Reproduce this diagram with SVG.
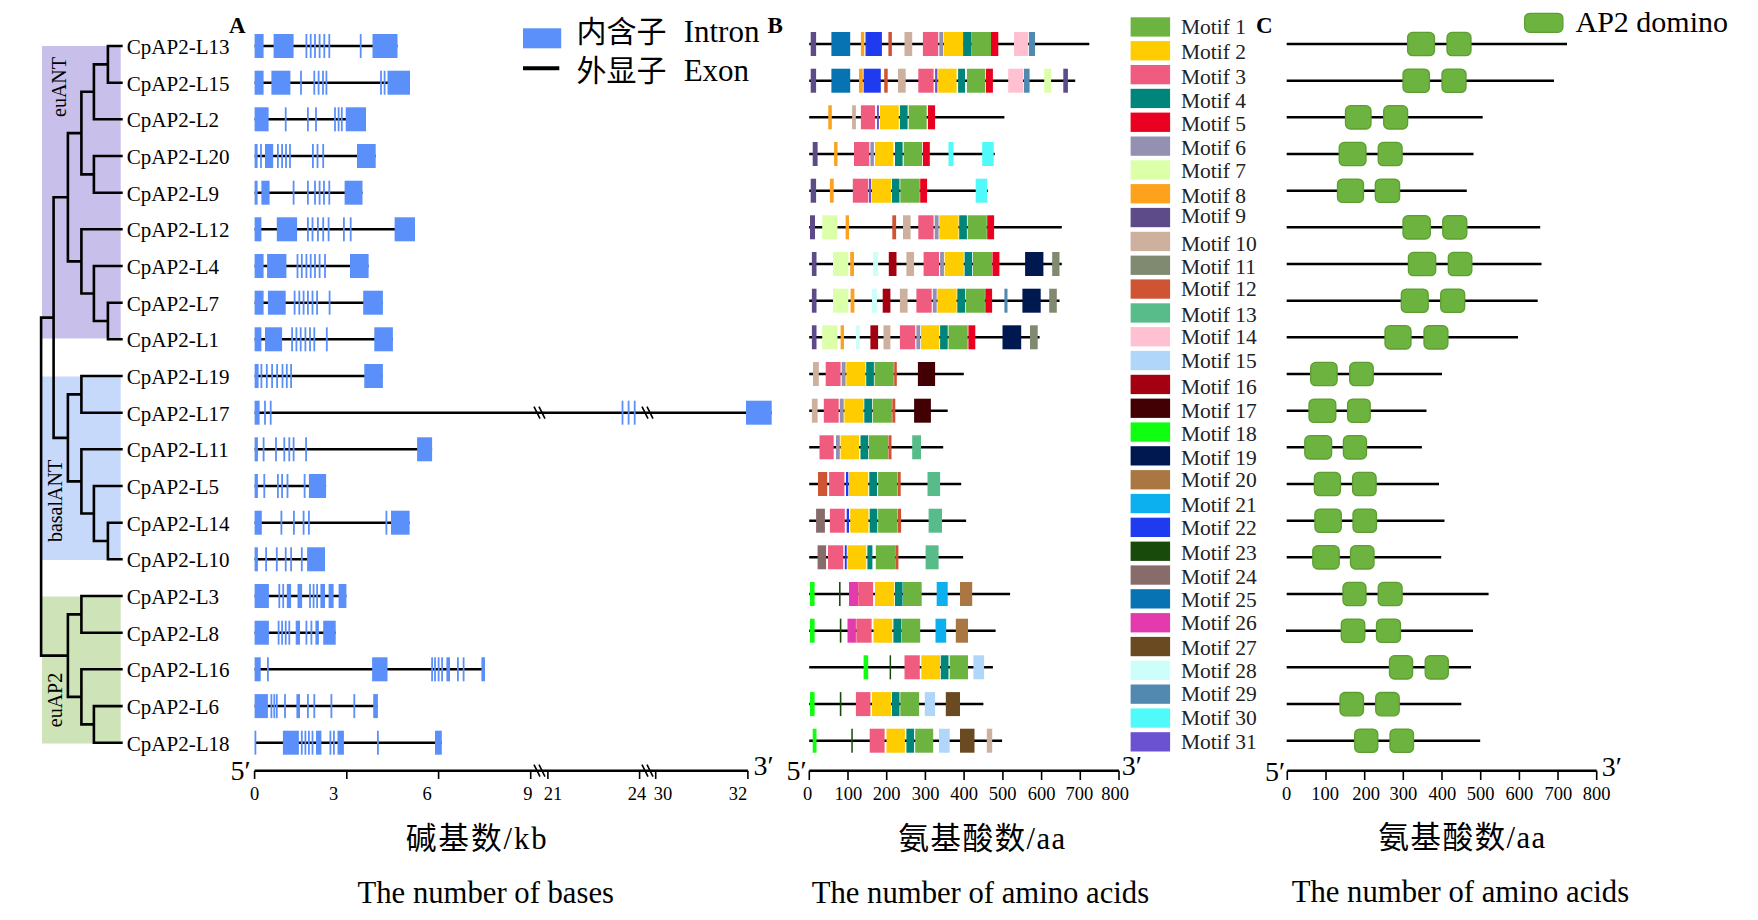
<svg xmlns="http://www.w3.org/2000/svg" width="1758" height="920" viewBox="0 0 1758 920">
<style>
.ln{stroke:#000;stroke-width:2.5;fill:none}
.tr{stroke:#000;stroke-width:2.6;fill:none;stroke-linecap:square}
.ax{stroke:#000;stroke-width:2.5;fill:none}
.tk{stroke:#000;stroke-width:1.6;fill:none}
.ex{fill:#5b8ff9}
.t{font-family:"Liberation Serif","Times New Roman","Noto Sans CJK SC",serif;fill:#000}
.lab{font-size:21px}
.mt{font-size:21.5px;fill:#222}
.num{font-size:18.5px;text-anchor:middle}
.end{font-size:28px}
.big{font-size:30.7px}
.bold{font-size:23px;font-weight:bold}
.cjk{font-family:"Liberation Serif","Noto Sans CJK SC",sans-serif}
.dom{fill:#6db33f;stroke:#5c9e30;stroke-width:1.3}
.m1{fill:#6db33f}.m2{fill:#ffcc00}.m3{fill:#f05c80}.m4{fill:#00857a}.m5{fill:#ea0020}
.m6{fill:#9490b2}.m7{fill:#dcffaa}.m8{fill:#fca21c}.m9{fill:#5d4a88}.m10{fill:#cdb09d}
.m11{fill:#7f8a70}.m12{fill:#cf5434}.m13{fill:#57bc8a}.m14{fill:#ffc0d2}.m15{fill:#b0d6fa}
.m16{fill:#a50012}.m17{fill:#420005}.m18{fill:#10ff10}.m19{fill:#001850}.m20{fill:#aa7642}
.m21{fill:#0db0ee}.m22{fill:#1f3bf0}.m23{fill:#184a0c}.m24{fill:#886c6c}.m25{fill:#0773b3}
.m26{fill:#e33aae}.m27{fill:#6a4a20}.m28{fill:#ccfffa}.m29{fill:#5189b1}.m30{fill:#50fafa}.m31{fill:#6a52d0}
</style>

<!-- clade backgrounds -->
<g id="clades">
<rect x="42" y="46" width="78.7" height="292.5" fill="#c9bfeb"/>
<rect x="42" y="376.5" width="78.7" height="183.5" fill="#c6d9fb"/>
<rect x="42" y="596.5" width="78.7" height="147" fill="#cee4b8"/>
<text class="t" font-size="20" text-anchor="middle" transform="translate(66,87) rotate(-90)">euANT</text>
<text class="t" font-size="20" text-anchor="middle" transform="translate(62,501) rotate(-90)">basalANT</text>
<text class="t" font-size="20" text-anchor="middle" transform="translate(62,700) rotate(-90)">euAP2</text>
</g>

<!-- tree connectors -->
<g id="connectors">
<path class="tr" d="M107.9 46H121.4M107.9 82.7H121.4M107.9 46V82.7M93.9 64.35H107.9M93.9 119.3H121.4M93.9 64.35V119.3M81.4 91.8H93.9
M93.9 156H121.4M93.9 192.7H121.4M93.9 156V192.7M81.4 174.35H93.9M81.4 91.8V174.35M67.9 133.1H81.4
M107.9 302.7H121.4M107.9 339.3H121.4M107.9 302.7V339.3M93.9 321H107.9M93.9 266H121.4M93.9 266V321M81.4 293.5H93.9
M81.4 229.3H121.4M81.4 229.3V293.5M67.9 261.4H81.4M67.9 133.1V261.4M53.6 197.25H67.9
M81.4 376H121.4M81.4 412.7H121.4M81.4 376V412.7M67.9 394.35H81.4
M107.9 522.7H121.4M107.9 559.3H121.4M107.9 522.7V559.3M93.9 541H107.9M93.9 486H121.4M93.9 486V541M81.4 513.5H93.9
M81.4 449.3H121.4M81.4 449.3V513.5M67.9 481.4H81.4M67.9 394.35V481.4M53.6 437.9H67.9M53.6 197.25V437.9M41.1 317.6H53.6
M81.4 596H121.4M81.4 632.7H121.4M81.4 596V632.7M67.9 614.35H81.4
M93.9 706.1H121.4M93.9 742.7H121.4M93.9 706.1V742.7M81.4 724.4H93.9M81.4 669.3H121.4M81.4 669.3V724.4M67.9 696.85H81.4
M67.9 614.35V696.85M41.1 655.6H67.9M41.1 317.6V655.6"/>
</g>

<!-- leaf labels -->
<g id="leaves" class="t lab">
<text id="n-L13" x="126.8" y="54">CpAP2-L13</text>
<text id="n-L15" x="126.8" y="90.7">CpAP2-L15</text>
<text id="n-L2" x="126.8" y="127.3">CpAP2-L2</text>
<text id="n-L20" x="126.8" y="164">CpAP2-L20</text>
<text id="n-L9" x="126.8" y="200.7">CpAP2-L9</text>
<text id="n-L12" x="126.8" y="237.3">CpAP2-L12</text>
<text id="n-L4" x="126.8" y="274">CpAP2-L4</text>
<text id="n-L7" x="126.8" y="310.7">CpAP2-L7</text>
<text id="n-L1" x="126.8" y="347.4">CpAP2-L1</text>
<text id="n-L19" x="126.8" y="384">CpAP2-L19</text>
<text id="n-L17" x="126.8" y="420.7">CpAP2-L17</text>
<text id="n-L11" x="126.8" y="457.4">CpAP2-L11</text>
<text id="n-L5" x="126.8" y="494">CpAP2-L5</text>
<text id="n-L14" x="126.8" y="530.7">CpAP2-L14</text>
<text id="n-L10" x="126.8" y="567.4">CpAP2-L10</text>
<text id="n-L3" x="126.8" y="604">CpAP2-L3</text>
<text id="n-L8" x="126.8" y="640.7">CpAP2-L8</text>
<text id="n-L16" x="126.8" y="677.4">CpAP2-L16</text>
<text id="n-L6" x="126.8" y="714.1">CpAP2-L6</text>
<text id="n-L18" x="126.8" y="750.7">CpAP2-L18</text>
</g>

<!-- panel labels -->
<text class="t bold" x="229" y="33">A</text>
<text class="t bold" x="767.5" y="33">B</text>
<text class="t bold" x="1256" y="33">C</text>

<!-- legend A -->
<g id="legendA">
<rect class="ex" x="523" y="28.3" width="38.2" height="20"/>
<line x1="523" y1="68.3" x2="559.3" y2="68.3" stroke="#000" stroke-width="4"/>
<text class="t cjk" font-size="30" y="42"><tspan x="576.5">内含子</tspan><tspan x="683.7" font-size="31">Intron</tspan></text>
<text class="t cjk" font-size="30" y="80.5"><tspan x="576.5">外显子</tspan><tspan x="683.7" font-size="31">Exon</tspan></text>
</g>

<!-- panel A genes -->
<g id="genesA">
<g id="A-L13" transform="translate(0,46)"><line class="ln" x1="254.6" x2="397.5"/><g class="ex"><rect x="254.6" y="-12" width="9" height="24"/><rect x="273.6" y="-12" width="20" height="24"/><rect x="372.5" y="-12" width="25" height="24"/><rect x="305.5" y="-12" width="1.8" height="24"/><rect x="309.8" y="-12" width="1.8" height="24"/><rect x="314.1" y="-12" width="1.8" height="24"/><rect x="318.7" y="-12" width="1.8" height="24"/><rect x="323.4" y="-12" width="1.8" height="24"/><rect x="328.4" y="-12" width="1.8" height="24"/><rect x="359.8" y="-12" width="1.8" height="24"/></g></g>
<g id="A-L15" transform="translate(0,82.7)"><line class="ln" x1="254.6" x2="410"/><g class="ex"><rect x="254.6" y="-12" width="9" height="24"/><rect x="271.4" y="-12" width="19" height="24"/><rect x="387.5" y="-12" width="22.5" height="24"/><rect x="300.1" y="-12" width="1.8" height="24"/><rect x="313.4" y="-12" width="1.8" height="24"/><rect x="317.7" y="-12" width="1.8" height="24"/><rect x="322.1" y="-12" width="1.8" height="24"/><rect x="325.5" y="-12" width="1.8" height="24"/><rect x="380.1" y="-12" width="1.8" height="24"/><rect x="383.7" y="-12" width="1.8" height="24"/></g></g>
<g id="A-L2" transform="translate(0,119.3)"><line class="ln" x1="254.6" x2="366"/><g class="ex"><rect x="254.6" y="-12" width="14" height="24"/><rect x="345.7" y="-12" width="20.3" height="24"/><rect x="284.8" y="-12" width="1.8" height="24"/><rect x="307" y="-12" width="1.8" height="24"/><rect x="315.1" y="-12" width="1.8" height="24"/><rect x="334.1" y="-12" width="1.8" height="24"/><rect x="337.7" y="-12" width="1.8" height="24"/><rect x="340.9" y="-12" width="1.8" height="24"/></g></g>
<g id="A-L20" transform="translate(0,156)"><line class="ln" x1="254.6" x2="375.7"/><g class="ex"><rect x="254.6" y="-12" width="3" height="24"/><rect x="265" y="-12" width="8.2" height="24"/><rect x="357" y="-12" width="18.7" height="24"/><rect x="260.1" y="-12" width="1.8" height="24"/><rect x="277" y="-12" width="1.8" height="24"/><rect x="281.2" y="-12" width="1.8" height="24"/><rect x="285.1" y="-12" width="1.8" height="24"/><rect x="289.1" y="-12" width="1.8" height="24"/><rect x="312" y="-12" width="1.8" height="24"/><rect x="316.6" y="-12" width="1.8" height="24"/><rect x="322.3" y="-12" width="1.8" height="24"/></g></g>
<g id="A-L9" transform="translate(0,192.7)"><line class="ln" x1="254.6" x2="362.5"/><g class="ex"><rect x="254.6" y="-12" width="3" height="24"/><rect x="261.4" y="-12" width="8.2" height="24"/><rect x="344.6" y="-12" width="17.9" height="24"/><rect x="292.7" y="-12" width="1.8" height="24"/><rect x="307" y="-12" width="1.8" height="24"/><rect x="314.1" y="-12" width="1.8" height="24"/><rect x="318.7" y="-12" width="1.8" height="24"/><rect x="323.1" y="-12" width="1.8" height="24"/><rect x="328.4" y="-12" width="1.8" height="24"/></g></g>
<g id="A-L12" transform="translate(0,229.3)"><line class="ln" x1="254.6" x2="415"/><g class="ex"><rect x="254.6" y="-12" width="6.8" height="24"/><rect x="276.8" y="-12" width="20.3" height="24"/><rect x="394.6" y="-12" width="20.4" height="24"/><rect x="307" y="-12" width="1.8" height="24"/><rect x="311.6" y="-12" width="1.8" height="24"/><rect x="317" y="-12" width="1.8" height="24"/><rect x="322.3" y="-12" width="1.8" height="24"/><rect x="327.7" y="-12" width="1.8" height="24"/><rect x="343" y="-12" width="1.8" height="24"/><rect x="349.8" y="-12" width="1.8" height="24"/></g></g>
<g id="A-L4" transform="translate(0,266)"><line class="ln" x1="254.6" x2="368.6"/><g class="ex"><rect x="254.6" y="-12" width="9" height="24"/><rect x="267.1" y="-12" width="19.3" height="24"/><rect x="350" y="-12" width="18.6" height="24"/><rect x="296.6" y="-12" width="1.8" height="24"/><rect x="300.9" y="-12" width="1.8" height="24"/><rect x="305.5" y="-12" width="1.8" height="24"/><rect x="309.8" y="-12" width="1.8" height="24"/><rect x="314.1" y="-12" width="1.8" height="24"/><rect x="318.7" y="-12" width="1.8" height="24"/><rect x="324.1" y="-12" width="1.8" height="24"/></g></g>
<g id="A-L7" transform="translate(0,302.7)"><line class="ln" x1="254.6" x2="382.9"/><g class="ex"><rect x="254.6" y="-12" width="9" height="24"/><rect x="267.9" y="-12" width="17.8" height="24"/><rect x="363.2" y="-12" width="19.7" height="24"/><rect x="293.7" y="-12" width="1.8" height="24"/><rect x="298.4" y="-12" width="1.8" height="24"/><rect x="302.7" y="-12" width="1.8" height="24"/><rect x="307" y="-12" width="1.8" height="24"/><rect x="311.6" y="-12" width="1.8" height="24"/><rect x="316.2" y="-12" width="1.8" height="24"/><rect x="328.7" y="-12" width="1.8" height="24"/></g></g>
<g id="A-L1" transform="translate(0,339.3)"><line class="ln" x1="254.6" x2="392.9"/><g class="ex"><rect x="254.6" y="-12" width="6.8" height="24"/><rect x="265" y="-12" width="17.1" height="24"/><rect x="374.3" y="-12" width="18.6" height="24"/><rect x="291.2" y="-12" width="1.8" height="24"/><rect x="295.5" y="-12" width="1.8" height="24"/><rect x="299.8" y="-12" width="1.8" height="24"/><rect x="304.5" y="-12" width="1.8" height="24"/><rect x="309.1" y="-12" width="1.8" height="24"/><rect x="313.4" y="-12" width="1.8" height="24"/><rect x="325.9" y="-12" width="1.8" height="24"/></g></g>
<g id="A-L19" transform="translate(0,376)"><line class="ln" x1="254.6" x2="382.9"/><g class="ex"><rect x="254.6" y="-12" width="4" height="24"/><rect x="364.3" y="-12" width="18.6" height="24"/><rect x="260.5" y="-12" width="1.8" height="24"/><rect x="265.9" y="-12" width="1.8" height="24"/><rect x="271.2" y="-12" width="1.8" height="24"/><rect x="276.2" y="-12" width="1.8" height="24"/><rect x="281.6" y="-12" width="1.8" height="24"/><rect x="285.9" y="-12" width="1.8" height="24"/><rect x="290.2" y="-12" width="1.8" height="24"/></g></g>
<g id="A-L17" transform="translate(0,412.7)"><line class="ln" x1="254.6" x2="771.7"/><g class="ex"><rect x="254.6" y="-12" width="5" height="24"/><rect x="746" y="-12" width="25.7" height="24"/><rect x="264.1" y="-12" width="1.8" height="24"/><rect x="269.8" y="-12" width="1.8" height="24"/><rect x="621.6" y="-12" width="1.8" height="24"/><rect x="627.7" y="-12" width="1.8" height="24"/><rect x="633.8" y="-12" width="1.8" height="24"/></g><path class="tk" stroke-width="2" d="M534 -6L540 6M539 -6L545 6M642 -6L648 6M647 -6L653 6"/></g>
<g id="A-L11" transform="translate(0,449.3)"><line class="ln" x1="254.6" x2="432.1"/><g class="ex"><rect x="254.6" y="-12" width="3.3" height="24"/><rect x="417.1" y="-12" width="15" height="24"/><rect x="262.7" y="-12" width="1.8" height="24"/><rect x="275.1" y="-12" width="1.8" height="24"/><rect x="283.4" y="-12" width="1.8" height="24"/><rect x="288.4" y="-12" width="1.8" height="24"/><rect x="292.7" y="-12" width="1.8" height="24"/><rect x="305.2" y="-12" width="1.8" height="24"/></g></g>
<g id="A-L5" transform="translate(0,486)"><line class="ln" x1="254.6" x2="326.1"/><g class="ex"><rect x="254.6" y="-12" width="3.3" height="24"/><rect x="308.9" y="-12" width="17.2" height="24"/><rect x="263.4" y="-12" width="1.8" height="24"/><rect x="277" y="-12" width="1.8" height="24"/><rect x="281.2" y="-12" width="1.8" height="24"/><rect x="286.6" y="-12" width="1.8" height="24"/><rect x="303.7" y="-12" width="1.8" height="24"/></g></g>
<g id="A-L14" transform="translate(0,522.7)"><line class="ln" x1="254.6" x2="409.6"/><g class="ex"><rect x="254.6" y="-12" width="7.2" height="24"/><rect x="391" y="-12" width="18.6" height="24"/><rect x="280.5" y="-12" width="1.8" height="24"/><rect x="293" y="-12" width="1.8" height="24"/><rect x="302.7" y="-12" width="1.8" height="24"/><rect x="308" y="-12" width="1.8" height="24"/><rect x="385.5" y="-12" width="1.8" height="24"/></g></g>
<g id="A-L10" transform="translate(0,559.3)"><line class="ln" x1="254.6" x2="325"/><g class="ex"><rect x="254.6" y="-12" width="3.3" height="24"/><rect x="307.1" y="-12" width="17.9" height="24"/><rect x="265.2" y="-12" width="1.8" height="24"/><rect x="275.9" y="-12" width="1.8" height="24"/><rect x="284.8" y="-12" width="1.8" height="24"/><rect x="290.2" y="-12" width="1.8" height="24"/><rect x="300.9" y="-12" width="1.8" height="24"/></g></g>
<g id="A-L3" transform="translate(0,596)"><line class="ln" x1="254.6" x2="346.4"/><g class="ex"><rect x="254.6" y="-12" width="14.3" height="24"/><rect x="286.8" y="-12" width="4.3" height="24"/><rect x="297.5" y="-12" width="4.6" height="24"/><rect x="320.4" y="-12" width="4.6" height="24"/><rect x="328.6" y="-12" width="5" height="24"/><rect x="338.6" y="-12" width="7.8" height="24"/><rect x="278.4" y="-12" width="1.8" height="24"/><rect x="282.3" y="-12" width="1.8" height="24"/><rect x="309.1" y="-12" width="1.8" height="24"/><rect x="312.7" y="-12" width="1.8" height="24"/><rect x="316.2" y="-12" width="1.8" height="24"/></g></g>
<g id="A-L8" transform="translate(0,632.7)"><line class="ln" x1="254.6" x2="335.7"/><g class="ex"><rect x="254.6" y="-12" width="14.3" height="24"/><rect x="295.7" y="-12" width="4.3" height="24"/><rect x="315.4" y="-12" width="3.5" height="24"/><rect x="323.2" y="-12" width="12.5" height="24"/><rect x="277.7" y="-12" width="1.8" height="24"/><rect x="281.2" y="-12" width="1.8" height="24"/><rect x="284.8" y="-12" width="1.8" height="24"/><rect x="288.4" y="-12" width="1.8" height="24"/><rect x="305.5" y="-12" width="1.8" height="24"/><rect x="310.5" y="-12" width="1.8" height="24"/></g></g>
<g id="A-L16" transform="translate(0,669.3)"><line class="ln" x1="254.6" x2="485"/><g class="ex"><rect x="254.6" y="-12" width="6.1" height="24"/><rect x="372.1" y="-12" width="15.4" height="24"/><rect x="446.4" y="-12" width="3.6" height="24"/><rect x="481.4" y="-12" width="3.6" height="24"/><rect x="267" y="-12" width="1.8" height="24"/><rect x="431.2" y="-12" width="1.8" height="24"/><rect x="434.1" y="-12" width="1.8" height="24"/><rect x="437.7" y="-12" width="1.8" height="24"/><rect x="441.2" y="-12" width="1.8" height="24"/><rect x="457" y="-12" width="1.8" height="24"/><rect x="462.7" y="-12" width="1.8" height="24"/></g></g>
<g id="A-L6" transform="translate(0,706.1)"><line class="ln" x1="254.6" x2="377.9"/><g class="ex"><rect x="254.6" y="-12" width="13.3" height="24"/><rect x="296.4" y="-12" width="3.6" height="24"/><rect x="373.2" y="-12" width="4.7" height="24"/><rect x="270.5" y="-12" width="1.8" height="24"/><rect x="273.4" y="-12" width="1.8" height="24"/><rect x="275.9" y="-12" width="1.8" height="24"/><rect x="284.1" y="-12" width="1.8" height="24"/><rect x="307" y="-12" width="1.8" height="24"/><rect x="313.4" y="-12" width="1.8" height="24"/><rect x="330.5" y="-12" width="1.8" height="24"/><rect x="353.4" y="-12" width="1.8" height="24"/></g></g>
<g id="A-L18" transform="translate(0,742.7)"><line class="ln" x1="255.4" x2="441.8"/><g class="ex"><rect x="282.9" y="-12" width="16" height="24"/><rect x="316" y="-12" width="5.4" height="24"/><rect x="337.5" y="-12" width="6.4" height="24"/><rect x="435" y="-12" width="6.8" height="24"/><rect x="254.5" y="-12" width="1.8" height="24"/><rect x="300.9" y="-12" width="1.8" height="24"/><rect x="304.5" y="-12" width="1.8" height="24"/><rect x="308" y="-12" width="1.8" height="24"/><rect x="311.6" y="-12" width="1.8" height="24"/><rect x="329.5" y="-12" width="1.8" height="24"/><rect x="333" y="-12" width="1.8" height="24"/><rect x="377" y="-12" width="1.8" height="24"/></g></g>
</g>

<!-- panel B motifs -->
<g id="motifsB">
<g id="B-L13" transform="translate(0,44)"><line class="ln" x1="809.2" x2="1089.3"/><rect class="m9" x="810.7" y="-12" width="5.4" height="24"/><rect class="m25" x="831.4" y="-12" width="18.8" height="24"/><rect class="m8" x="860.9" y="-12" width="3.4" height="24"/><rect class="m22" x="865.5" y="-12" width="16.4" height="24"/><rect class="m12" x="888.4" y="-12" width="3.5" height="24"/><rect class="m10" x="904.5" y="-12" width="7.7" height="24"/><rect class="m3" x="922.9" y="-12" width="15.3" height="24"/><rect class="m6" x="939.3" y="-12" width="3.9" height="24"/><rect class="m2" x="943.9" y="-12" width="19.2" height="24"/><rect class="m4" x="963.1" y="-12" width="8.4" height="24"/><rect class="m1" x="971.5" y="-12" width="19.5" height="24"/><rect class="m5" x="991" y="-12" width="7.3" height="24"/><rect class="m14" x="1014" y="-12" width="14.1" height="24"/><rect class="m29" x="1028.9" y="-12" width="6.1" height="24"/></g>
<g id="B-L15" transform="translate(0,80.7)"><line class="ln" x1="809.2" x2="1075.2"/><rect class="m9" x="810.7" y="-12" width="5.4" height="24"/><rect class="m25" x="831.4" y="-12" width="18.8" height="24"/><rect class="m8" x="859" y="-12" width="3.8" height="24"/><rect class="m22" x="863.6" y="-12" width="17.2" height="24"/><rect class="m12" x="884.2" y="-12" width="3.5" height="24"/><rect class="m10" x="898" y="-12" width="7.7" height="24"/><rect class="m3" x="918.3" y="-12" width="15.3" height="24"/><rect class="m31" x="935.1" y="-12" width="2.3" height="24"/><rect class="m2" x="938.2" y="-12" width="18.4" height="24"/><rect class="m4" x="958.1" y="-12" width="6.9" height="24"/><rect class="m1" x="966.9" y="-12" width="18.4" height="24"/><rect class="m5" x="986" y="-12" width="6.9" height="24"/><rect class="m14" x="1008.2" y="-12" width="14.9" height="24"/><rect class="m29" x="1023.9" y="-12" width="5.7" height="24"/><rect class="m7" x="1044.2" y="-12" width="6.9" height="24"/><rect class="m9" x="1063.3" y="-12" width="4.6" height="24"/></g>
<g id="B-L2" transform="translate(0,117.3)"><line class="ln" x1="809.2" x2="1004.4"/><rect class="m8" x="828.3" y="-12" width="3.5" height="24"/><rect class="m10" x="852.1" y="-12" width="3.8" height="24"/><rect class="m3" x="860.9" y="-12" width="14.1" height="24"/><rect class="m31" x="877" y="-12" width="1.9" height="24"/><rect class="m2" x="880" y="-12" width="18.8" height="24"/><rect class="m4" x="899.9" y="-12" width="7.7" height="24"/><rect class="m1" x="908.7" y="-12" width="18" height="24"/><rect class="m5" x="927.9" y="-12" width="7.2" height="24"/></g>
<g id="B-L20" transform="translate(0,154)"><line class="ln" x1="809.2" x2="994.8"/><rect class="m9" x="812.7" y="-12" width="4.9" height="24"/><rect class="m8" x="834.1" y="-12" width="3.4" height="24"/><rect class="m3" x="854" y="-12" width="15.3" height="24"/><rect class="m6" x="870.4" y="-12" width="3.5" height="24"/><rect class="m2" x="875" y="-12" width="18.4" height="24"/><rect class="m4" x="895" y="-12" width="7.6" height="24"/><rect class="m1" x="903.7" y="-12" width="18.4" height="24"/><rect class="m5" x="922.9" y="-12" width="6.9" height="24"/><rect class="m30" x="948.5" y="-12" width="5" height="24"/><rect class="m30" x="982.2" y="-12" width="11.5" height="24"/></g>
<g id="B-L9" transform="translate(0,190.7)"><line class="ln" x1="809.2" x2="988"/><rect class="m9" x="810.7" y="-12" width="5.4" height="24"/><rect class="m8" x="829.9" y="-12" width="3.8" height="24"/><rect class="m3" x="852.8" y="-12" width="15.4" height="24"/><rect class="m31" x="868.9" y="-12" width="2.3" height="24"/><rect class="m2" x="872" y="-12" width="19.1" height="24"/><rect class="m4" x="891.9" y="-12" width="7.6" height="24"/><rect class="m1" x="900.3" y="-12" width="19.5" height="24"/><rect class="m5" x="920.2" y="-12" width="6.9" height="24"/><rect class="m30" x="975.7" y="-12" width="11.5" height="24"/></g>
<g id="B-L12" transform="translate(0,227.3)"><line class="ln" x1="809.2" x2="1061.8"/><rect class="m9" x="810" y="-12" width="5" height="24"/><rect class="m7" x="822.2" y="-12" width="15.3" height="24"/><rect class="m8" x="845.6" y="-12" width="3.4" height="24"/><rect class="m12" x="892.3" y="-12" width="3.8" height="24"/><rect class="m10" x="903" y="-12" width="7.6" height="24"/><rect class="m3" x="918.3" y="-12" width="15.3" height="24"/><rect class="m6" x="934.7" y="-12" width="3.9" height="24"/><rect class="m2" x="939.3" y="-12" width="19.2" height="24"/><rect class="m4" x="959.2" y="-12" width="7.7" height="24"/><rect class="m1" x="967.7" y="-12" width="19.1" height="24"/><rect class="m5" x="987.2" y="-12" width="6.9" height="24"/></g>
<g id="B-L4" transform="translate(0,264)"><line class="ln" x1="809.2" x2="1061.8"/><rect class="m9" x="811.9" y="-12" width="4.6" height="24"/><rect class="m7" x="833" y="-12" width="15.3" height="24"/><rect class="m8" x="850.2" y="-12" width="3.8" height="24"/><rect class="m28" x="873.1" y="-12" width="5" height="24"/><rect class="m16" x="888.8" y="-12" width="7.7" height="24"/><rect class="m10" x="906.4" y="-12" width="7.7" height="24"/><rect class="m3" x="923.6" y="-12" width="15.4" height="24"/><rect class="m6" x="940.1" y="-12" width="3.8" height="24"/><rect class="m2" x="944.7" y="-12" width="19.1" height="24"/><rect class="m4" x="964.6" y="-12" width="7.6" height="24"/><rect class="m1" x="973" y="-12" width="19.2" height="24"/><rect class="m5" x="992.5" y="-12" width="6.9" height="24"/><rect class="m19" x="1025.1" y="-12" width="18.3" height="24"/><rect class="m11" x="1052.2" y="-12" width="7.3" height="24"/></g>
<g id="B-L7" transform="translate(0,300.7)"><line class="ln" x1="809.2" x2="1059.5"/><rect class="m9" x="811.9" y="-12" width="4.6" height="24"/><rect class="m7" x="833" y="-12" width="15.3" height="24"/><rect class="m8" x="850.6" y="-12" width="3.8" height="24"/><rect class="m28" x="872" y="-12" width="5" height="24"/><rect class="m16" x="882.7" y="-12" width="7.7" height="24"/><rect class="m10" x="899.9" y="-12" width="7.7" height="24"/><rect class="m3" x="916.4" y="-12" width="15.3" height="24"/><rect class="m6" x="932.8" y="-12" width="3.9" height="24"/><rect class="m2" x="937.4" y="-12" width="19.2" height="24"/><rect class="m4" x="957.3" y="-12" width="7.7" height="24"/><rect class="m1" x="965.7" y="-12" width="19.2" height="24"/><rect class="m5" x="985.3" y="-12" width="6.8" height="24"/><rect class="m29" x="1004.4" y="-12" width="3.1" height="24"/><rect class="m19" x="1022.4" y="-12" width="18.3" height="24"/><rect class="m11" x="1049.2" y="-12" width="7.6" height="24"/></g>
<g id="B-L1" transform="translate(0,337.3)"><line class="ln" x1="809.2" x2="1039.6"/><rect class="m9" x="811.9" y="-12" width="4.6" height="24"/><rect class="m7" x="822.2" y="-12" width="15.3" height="24"/><rect class="m8" x="840.6" y="-12" width="3.4" height="24"/><rect class="m28" x="855.9" y="-12" width="3.8" height="24"/><rect class="m16" x="870.4" y="-12" width="7.7" height="24"/><rect class="m10" x="883.5" y="-12" width="6.9" height="24"/><rect class="m3" x="899.9" y="-12" width="15.3" height="24"/><rect class="m6" x="916.4" y="-12" width="3.8" height="24"/><rect class="m2" x="921" y="-12" width="18.3" height="24"/><rect class="m4" x="940.1" y="-12" width="7.6" height="24"/><rect class="m1" x="948.5" y="-12" width="19.2" height="24"/><rect class="m5" x="968.4" y="-12" width="6.9" height="24"/><rect class="m19" x="1002.5" y="-12" width="18.7" height="24"/><rect class="m11" x="1030" y="-12" width="7.7" height="24"/></g>
<g id="B-L19" transform="translate(0,374)"><line class="ln" x1="809.2" x2="963.8"/><rect class="m10" x="813" y="-12" width="5.8" height="24"/><rect class="m3" x="825.7" y="-12" width="14.9" height="24"/><rect class="m6" x="841.7" y="-12" width="3.9" height="24"/><rect class="m2" x="846.3" y="-12" width="19.2" height="24"/><rect class="m4" x="866.2" y="-12" width="7.7" height="24"/><rect class="m1" x="874.6" y="-12" width="19.2" height="24"/><rect class="m12" x="894.2" y="-12" width="2.6" height="24"/><rect class="m17" x="917.9" y="-12" width="17.2" height="24"/></g>
<g id="B-L17" transform="translate(0,410.7)"><line class="ln" x1="809.2" x2="947.7"/><rect class="m10" x="811.9" y="-12" width="5.7" height="24"/><rect class="m3" x="823.8" y="-12" width="14.9" height="24"/><rect class="m6" x="839.8" y="-12" width="3.9" height="24"/><rect class="m2" x="844.4" y="-12" width="19.2" height="24"/><rect class="m4" x="864.3" y="-12" width="7.7" height="24"/><rect class="m1" x="872.7" y="-12" width="19.2" height="24"/><rect class="m12" x="892.3" y="-12" width="3" height="24"/><rect class="m17" x="914.1" y="-12" width="16.8" height="24"/></g>
<g id="B-L11" transform="translate(0,447.3)"><line class="ln" x1="809.2" x2="943.2"/><rect class="m3" x="819.5" y="-12" width="14.2" height="24"/><rect class="m6" x="836" y="-12" width="3.8" height="24"/><rect class="m2" x="840.6" y="-12" width="18.4" height="24"/><rect class="m4" x="860.5" y="-12" width="7.7" height="24"/><rect class="m1" x="868.9" y="-12" width="19.1" height="24"/><rect class="m12" x="888.4" y="-12" width="3.1" height="24"/><rect class="m13" x="912.2" y="-12" width="8.8" height="24"/></g>
<g id="B-L5" transform="translate(0,484)"><line class="ln" x1="809.2" x2="961.2"/><rect class="m12" x="818" y="-12" width="9.2" height="24" fill="#dc4e42"/><rect class="m3" x="829.1" y="-12" width="15.3" height="24"/><rect class="m22" x="846" y="-12" width="2.3" height="24"/><rect class="m2" x="849" y="-12" width="19.2" height="24"/><rect class="m4" x="869.3" y="-12" width="7.7" height="24"/><rect class="m1" x="878.1" y="-12" width="19.1" height="24"/><rect class="m12" x="897.6" y="-12" width="3.1" height="24"/><rect class="m13" x="927.5" y="-12" width="12.6" height="24"/></g>
<g id="B-L14" transform="translate(0,520.7)"><line class="ln" x1="809.2" x2="966.1"/><rect class="m24" x="816.1" y="-12" width="8.8" height="24"/><rect class="m3" x="829.9" y="-12" width="14.9" height="24"/><rect class="m22" x="846.7" y="-12" width="2.3" height="24"/><rect class="m2" x="850.2" y="-12" width="18.3" height="24"/><rect class="m4" x="869.7" y="-12" width="7.6" height="24"/><rect class="m1" x="878.1" y="-12" width="19.1" height="24"/><rect class="m12" x="897.6" y="-12" width="3.5" height="24"/><rect class="m13" x="928.6" y="-12" width="13.4" height="24"/></g>
<g id="B-L10" transform="translate(0,557.3)"><line class="ln" x1="809.2" x2="963.1"/><rect class="m24" x="817.6" y="-12" width="8.5" height="24"/><rect class="m3" x="828" y="-12" width="15.3" height="24"/><rect class="m22" x="844.8" y="-12" width="1.9" height="24"/><rect class="m2" x="847.5" y="-12" width="18.7" height="24"/><rect class="m4" x="867.4" y="-12" width="5" height="24"/><rect class="m1" x="875.8" y="-12" width="19.2" height="24"/><rect class="m12" x="895.3" y="-12" width="3.1" height="24"/><rect class="m13" x="925.6" y="-12" width="13" height="24"/></g>
<g id="B-L3" transform="translate(0,594)"><line class="ln" x1="809.2" x2="1010.1"/><rect class="m18" x="810" y="-12" width="4.6" height="24"/><rect class="m23" x="839" y="-12" width="1.6" height="24"/><rect class="m26" x="849" y="-12" width="9" height="24"/><rect class="m3" x="858.2" y="-12" width="14.9" height="24"/><rect class="m2" x="875" y="-12" width="19.2" height="24"/><rect class="m4" x="895" y="-12" width="7.6" height="24"/><rect class="m1" x="903" y="-12" width="18.7" height="24"/><rect class="m21" x="936.7" y="-12" width="11" height="24"/><rect class="m20" x="960" y="-12" width="12.2" height="24"/></g>
<g id="B-L8" transform="translate(0,630.7)"><line class="ln" x1="809.2" x2="995.6"/><rect class="m18" x="810" y="-12" width="4.6" height="24"/><rect class="m23" x="839.8" y="-12" width="1.6" height="24"/><rect class="m26" x="847.5" y="-12" width="8.4" height="24"/><rect class="m3" x="856.3" y="-12" width="15.3" height="24"/><rect class="m2" x="873.5" y="-12" width="18.8" height="24"/><rect class="m4" x="893.4" y="-12" width="7.7" height="24"/><rect class="m1" x="901.4" y="-12" width="18.8" height="24"/><rect class="m21" x="935.5" y="-12" width="10.7" height="24"/><rect class="m20" x="955.8" y="-12" width="12.2" height="24"/></g>
<g id="B-L16" transform="translate(0,667.3)"><line class="ln" x1="809.2" x2="992.9"/><rect class="m18" x="863.6" y="-12" width="4.6" height="24"/><rect class="m23" x="889.6" y="-12" width="1.5" height="24"/><rect class="m3" x="904.5" y="-12" width="15.3" height="24"/><rect class="m2" x="921.3" y="-12" width="18.8" height="24"/><rect class="m4" x="940.8" y="-12" width="7.7" height="24"/><rect class="m1" x="949.7" y="-12" width="18.3" height="24"/><rect class="m15" x="973.4" y="-12" width="10.7" height="24"/></g>
<g id="B-L6" transform="translate(0,704.1)"><line class="ln" x1="809.2" x2="983.4"/><rect class="m18" x="810" y="-12" width="4.6" height="24"/><rect class="m23" x="839.8" y="-12" width="1.6" height="24"/><rect class="m3" x="855.9" y="-12" width="14.5" height="24"/><rect class="m2" x="872" y="-12" width="19.1" height="24"/><rect class="m4" x="891.9" y="-12" width="7.6" height="24"/><rect class="m1" x="900.3" y="-12" width="18.8" height="24"/><rect class="m15" x="924.8" y="-12" width="10.3" height="24"/><rect class="m27" x="945.8" y="-12" width="14.2" height="24"/></g>
<g id="B-L18" transform="translate(0,740.7)"><line class="ln" x1="809.2" x2="1002.1"/><rect class="m18" x="812.7" y="-12" width="3.8" height="24"/><rect class="m23" x="851.3" y="-12" width="1.5" height="24"/><rect class="m3" x="869.7" y="-12" width="14.9" height="24"/><rect class="m2" x="886.5" y="-12" width="18.4" height="24"/><rect class="m4" x="906.4" y="-12" width="7.7" height="24"/><rect class="m1" x="915.2" y="-12" width="18" height="24"/><rect class="m15" x="939" y="-12" width="10.7" height="24"/><rect class="m27" x="960" y="-12" width="14.5" height="24"/><rect class="m10" x="986.8" y="-12" width="5.4" height="24"/></g>
</g>

<!-- motif legend -->
<g id="motifLegend">
<rect class="m1" x="1130.6" y="17.3" width="39.5" height="19.3"/><rect class="m2" x="1130.6" y="41.1" width="39.5" height="19.3"/><rect class="m3" x="1130.6" y="65" width="39.5" height="19.3"/><rect class="m4" x="1130.6" y="88.8" width="39.5" height="19.3"/><rect class="m5" x="1130.6" y="112.6" width="39.5" height="19.3"/><rect class="m6" x="1130.6" y="136.5" width="39.5" height="19.3"/><rect class="m7" x="1130.6" y="160.3" width="39.5" height="19.3"/><rect class="m8" x="1130.6" y="184.1" width="39.5" height="19.3"/><rect class="m9" x="1130.6" y="207.9" width="39.5" height="19.3"/><rect class="m10" x="1130.6" y="231.8" width="39.5" height="19.3"/><rect class="m11" x="1130.6" y="255.6" width="39.5" height="19.3"/><rect class="m12" x="1130.6" y="279.4" width="39.5" height="19.3"/><rect class="m13" x="1130.6" y="303.3" width="39.5" height="19.3"/><rect class="m14" x="1130.6" y="327.1" width="39.5" height="19.3"/><rect class="m15" x="1130.6" y="350.9" width="39.5" height="19.3"/><rect class="m16" x="1130.6" y="374.8" width="39.5" height="19.3"/><rect class="m17" x="1130.6" y="398.6" width="39.5" height="19.3"/><rect class="m18" x="1130.6" y="422.4" width="39.5" height="19.3"/><rect class="m19" x="1130.6" y="446.2" width="39.5" height="19.3"/><rect class="m20" x="1130.6" y="470.1" width="39.5" height="19.3"/><rect class="m21" x="1130.6" y="493.9" width="39.5" height="19.3"/><rect class="m22" x="1130.6" y="517.7" width="39.5" height="19.3"/><rect class="m23" x="1130.6" y="541.6" width="39.5" height="19.3"/><rect class="m24" x="1130.6" y="565.4" width="39.5" height="19.3"/><rect class="m25" x="1130.6" y="589.2" width="39.5" height="19.3"/><rect class="m26" x="1130.6" y="613.1" width="39.5" height="19.3"/><rect class="m27" x="1130.6" y="636.9" width="39.5" height="19.3"/><rect class="m28" x="1130.6" y="660.7" width="39.5" height="19.3"/><rect class="m29" x="1130.6" y="684.5" width="39.5" height="19.3"/><rect class="m30" x="1130.6" y="708.4" width="39.5" height="19.3"/><rect class="m31" x="1130.6" y="732.2" width="39.5" height="19.3"/>
<g class="t mt">
<text x="1181" y="34">Motif 1</text><text x="1181" y="58.5">Motif 2</text><text x="1181" y="84">Motif 3</text><text x="1181" y="107.5">Motif 4</text><text x="1181" y="130.8">Motif 5</text><text x="1181" y="154.5">Motif 6</text><text x="1181" y="178">Motif 7</text><text x="1181" y="202.5">Motif 8</text><text x="1181" y="223">Motif 9</text><text x="1181" y="250.8">Motif 10</text><text x="1181" y="274">Motif 11</text><text x="1181" y="296.3">Motif 12</text><text x="1181" y="321.8">Motif 13</text><text x="1181" y="344">Motif 14</text><text x="1181" y="368">Motif 15</text><text x="1181" y="393.8">Motif 16</text><text x="1181" y="418">Motif 17</text><text x="1181" y="441.3">Motif 18</text><text x="1181" y="464.5">Motif 19</text><text x="1181" y="487">Motif 20</text><text x="1181" y="512">Motif 21</text><text x="1181" y="535.3">Motif 22</text><text x="1181" y="559.5">Motif 23</text><text x="1181" y="584.2">Motif 24</text><text x="1181" y="607">Motif 25</text><text x="1181" y="630.3">Motif 26</text><text x="1181" y="655.3">Motif 27</text><text x="1181" y="678">Motif 28</text><text x="1181" y="701.3">Motif 29</text><text x="1181" y="724.5">Motif 30</text><text x="1181" y="748.8">Motif 31</text>
</g>
</g>

<!-- legend C -->
<g id="legendC">
<rect class="dom" x="1524.7" y="13.3" width="38.2" height="19" rx="5"/>
<text class="t" font-size="30" x="1575.5" y="32">AP2 domino</text>
</g>

<!-- panel C domains -->
<g id="domainsC">
<g id="C-L13" transform="translate(0,44)"><line class="ln" x1="1286.7" x2="1567"/><rect class="dom" x="1407.6" y="-11.6" width="26.9" height="23.3" rx="5"/><rect class="dom" x="1447" y="-11.6" width="24" height="23.3" rx="5"/></g>
<g id="C-L15" transform="translate(0,80.7)"><line class="ln" x1="1286.7" x2="1554"/><rect class="dom" x="1403" y="-11.6" width="26.4" height="23.3" rx="5"/><rect class="dom" x="1442" y="-11.6" width="24" height="23.3" rx="5"/></g>
<g id="C-L2" transform="translate(0,117.3)"><line class="ln" x1="1286.7" x2="1482.7"/><rect class="dom" x="1345.5" y="-11.6" width="25.5" height="23.3" rx="5"/><rect class="dom" x="1383.7" y="-11.6" width="23.9" height="23.3" rx="5"/></g>
<g id="C-L20" transform="translate(0,154)"><line class="ln" x1="1286.7" x2="1473.5"/><rect class="dom" x="1339.2" y="-11.6" width="26.8" height="23.3" rx="5"/><rect class="dom" x="1378.2" y="-11.6" width="23.9" height="23.3" rx="5"/></g>
<g id="C-L9" transform="translate(0,190.7)"><line class="ln" x1="1286.7" x2="1466.8"/><rect class="dom" x="1337.5" y="-11.6" width="26" height="23.3" rx="5"/><rect class="dom" x="1375.3" y="-11.6" width="24.3" height="23.3" rx="5"/></g>
<g id="C-L12" transform="translate(0,227.3)"><line class="ln" x1="1286.7" x2="1540.2"/><rect class="dom" x="1403" y="-11.6" width="27.3" height="23.3" rx="5"/><rect class="dom" x="1442.8" y="-11.6" width="24" height="23.3" rx="5"/></g>
<g id="C-L4" transform="translate(0,264)"><line class="ln" x1="1286.7" x2="1541.5"/><rect class="dom" x="1408.4" y="-11.6" width="27.3" height="23.3" rx="5"/><rect class="dom" x="1448.3" y="-11.6" width="23.5" height="23.3" rx="5"/></g>
<g id="C-L7" transform="translate(0,300.7)"><line class="ln" x1="1286.7" x2="1537.7"/><rect class="dom" x="1401.3" y="-11.6" width="26.9" height="23.3" rx="5"/><rect class="dom" x="1440.7" y="-11.6" width="24" height="23.3" rx="5"/></g>
<g id="C-L1" transform="translate(0,337.3)"><line class="ln" x1="1286.7" x2="1518"/><rect class="dom" x="1385" y="-11.6" width="26" height="23.3" rx="5"/><rect class="dom" x="1424" y="-11.6" width="23.9" height="23.3" rx="5"/></g>
<g id="C-L19" transform="translate(0,374)"><line class="ln" x1="1286.7" x2="1442"/><rect class="dom" x="1310.7" y="-11.6" width="26.4" height="23.3" rx="5"/><rect class="dom" x="1349.7" y="-11.6" width="23.5" height="23.3" rx="5"/></g>
<g id="C-L17" transform="translate(0,410.7)"><line class="ln" x1="1286.7" x2="1426.5"/><rect class="dom" x="1309" y="-11.6" width="26.8" height="23.3" rx="5"/><rect class="dom" x="1347.6" y="-11.6" width="22.6" height="23.3" rx="5"/></g>
<g id="C-L11" transform="translate(0,447.3)"><line class="ln" x1="1286.7" x2="1421.9"/><rect class="dom" x="1304.8" y="-11.6" width="26.8" height="23.3" rx="5"/><rect class="dom" x="1343.4" y="-11.6" width="23.1" height="23.3" rx="5"/></g>
<g id="C-L5" transform="translate(0,484)"><line class="ln" x1="1286.7" x2="1439"/><rect class="dom" x="1314.4" y="-11.6" width="26.1" height="23.3" rx="5"/><rect class="dom" x="1352.6" y="-11.6" width="23.5" height="23.3" rx="5"/></g>
<g id="C-L14" transform="translate(0,520.7)"><line class="ln" x1="1286.7" x2="1444.5"/><rect class="dom" x="1314.9" y="-11.6" width="26.4" height="23.3" rx="5"/><rect class="dom" x="1353" y="-11.6" width="23.5" height="23.3" rx="5"/></g>
<g id="C-L10" transform="translate(0,557.3)"><line class="ln" x1="1286.7" x2="1441.2"/><rect class="dom" x="1312.8" y="-11.6" width="26.4" height="23.3" rx="5"/><rect class="dom" x="1350.5" y="-11.6" width="23.5" height="23.3" rx="5"/></g>
<g id="C-L3" transform="translate(0,594)"><line class="ln" x1="1286.7" x2="1488.6"/><rect class="dom" x="1343" y="-11.6" width="23" height="23.3" rx="5"/><rect class="dom" x="1378.2" y="-11.6" width="23.9" height="23.3" rx="5"/></g>
<g id="C-L8" transform="translate(0,630.7)"><line class="ln" x1="1286" x2="1473"/><rect class="dom" x="1341.3" y="-11.6" width="23.5" height="23.3" rx="5"/><rect class="dom" x="1376.5" y="-11.6" width="24" height="23.3" rx="5"/></g>
<g id="C-L16" transform="translate(0,667.3)"><line class="ln" x1="1286.7" x2="1471"/><rect class="dom" x="1389.5" y="-11.6" width="23.1" height="23.3" rx="5"/><rect class="dom" x="1425.2" y="-11.6" width="23.1" height="23.3" rx="5"/></g>
<g id="C-L6" transform="translate(0,704.1)"><line class="ln" x1="1286.7" x2="1461.3"/><rect class="dom" x="1340" y="-11.6" width="23.5" height="23.3" rx="5"/><rect class="dom" x="1375.7" y="-11.6" width="23.5" height="23.3" rx="5"/></g>
<g id="C-L18" transform="translate(0,740.7)"><line class="ln" x1="1286.7" x2="1480.2"/><rect class="dom" x="1354.7" y="-11.6" width="23.1" height="23.3" rx="5"/><rect class="dom" x="1390" y="-11.6" width="23.5" height="23.3" rx="5"/></g>
</g>

<!-- axes -->
<g id="axisA">
<line class="ax" x1="254.6" y1="770.7" x2="747.9" y2="770.7"/>
<path class="tk" d="M254.6 770.7V779M346.8 770.7V779M438.6 770.7V779M530.7 770.7V779M547.9 770.7V779M639.6 770.7V779M655.7 770.7V779M747.9 770.7V779"/>
<path class="tk" stroke-width="2" d="M534 764.7L540 776.7M539 764.7L545 776.7M642 764.7L648 776.7M647 764.7L653 776.7"/>
<g class="t num"><text x="254.6" y="800">0</text><text x="333.6" y="800">3</text><text x="427.1" y="800">6</text><text x="527.9" y="800">9</text><text x="552.9" y="800">21</text><text x="637.1" y="800">24</text><text x="662.9" y="800">30</text><text x="737.9" y="800">32</text></g>
<text class="t end" x="230.5" y="780">5′</text>
<text class="t end" x="753.5" y="775">3′</text>
<text class="t cjk big" x="405.7" y="849" textLength="141" lengthAdjust="spacing">碱基数/kb</text>
<text class="t big" x="357.5" y="903">The number of bases</text>
</g>
<g id="axisB">
<line class="ax" x1="809.3" y1="770.7" x2="1119" y2="770.7"/>
<path class="tk" d="M809.3 770.7V780M848 770.7V780M886.7 770.7V780M925.4 770.7V780M964.1 770.7V780M1002.9 770.7V780M1041.6 770.7V780M1080.3 770.7V780M1119 770.7V780"/>
<g class="t num"><text x="807.7" y="800">0</text><text x="848.3" y="800">100</text><text x="886.7" y="800">200</text><text x="925.7" y="800">300</text><text x="964" y="800">400</text><text x="1002.7" y="800">500</text><text x="1041.7" y="800">600</text><text x="1079.3" y="800">700</text><text x="1115" y="800">800</text></g>
<text class="t end" x="786.5" y="780">5′</text>
<text class="t end" x="1121.7" y="775">3′</text>
<text class="t cjk big" x="898.3" y="849" textLength="166.7" lengthAdjust="spacing">氨基酸数/aa</text>
<text class="t big" x="811.7" y="903">The number of amino acids</text>
</g>
<g id="axisC">
<line class="ax" x1="1287.3" y1="770.7" x2="1596.7" y2="770.7"/>
<path class="tk" d="M1287.3 770.7V780M1326 770.7V780M1364.7 770.7V780M1403.3 770.7V780M1442 770.7V780M1480.7 770.7V780M1519.4 770.7V780M1558 770.7V780M1596.7 770.7V780"/>
<g class="t num"><text x="1286.7" y="800">0</text><text x="1325" y="800">100</text><text x="1366" y="800">200</text><text x="1403.3" y="800">300</text><text x="1442.3" y="800">400</text><text x="1480.7" y="800">500</text><text x="1519.3" y="800">600</text><text x="1558.3" y="800">700</text><text x="1596.7" y="800">800</text></g>
<text class="t end" x="1265" y="780.7">5′</text>
<text class="t end" x="1601.7" y="776">3′</text>
<text class="t cjk big" x="1378.3" y="848" textLength="166.7" lengthAdjust="spacing">氨基酸数/aa</text>
<text class="t big" x="1291.7" y="901.5">The number of amino acids</text>
</g>
</svg>
